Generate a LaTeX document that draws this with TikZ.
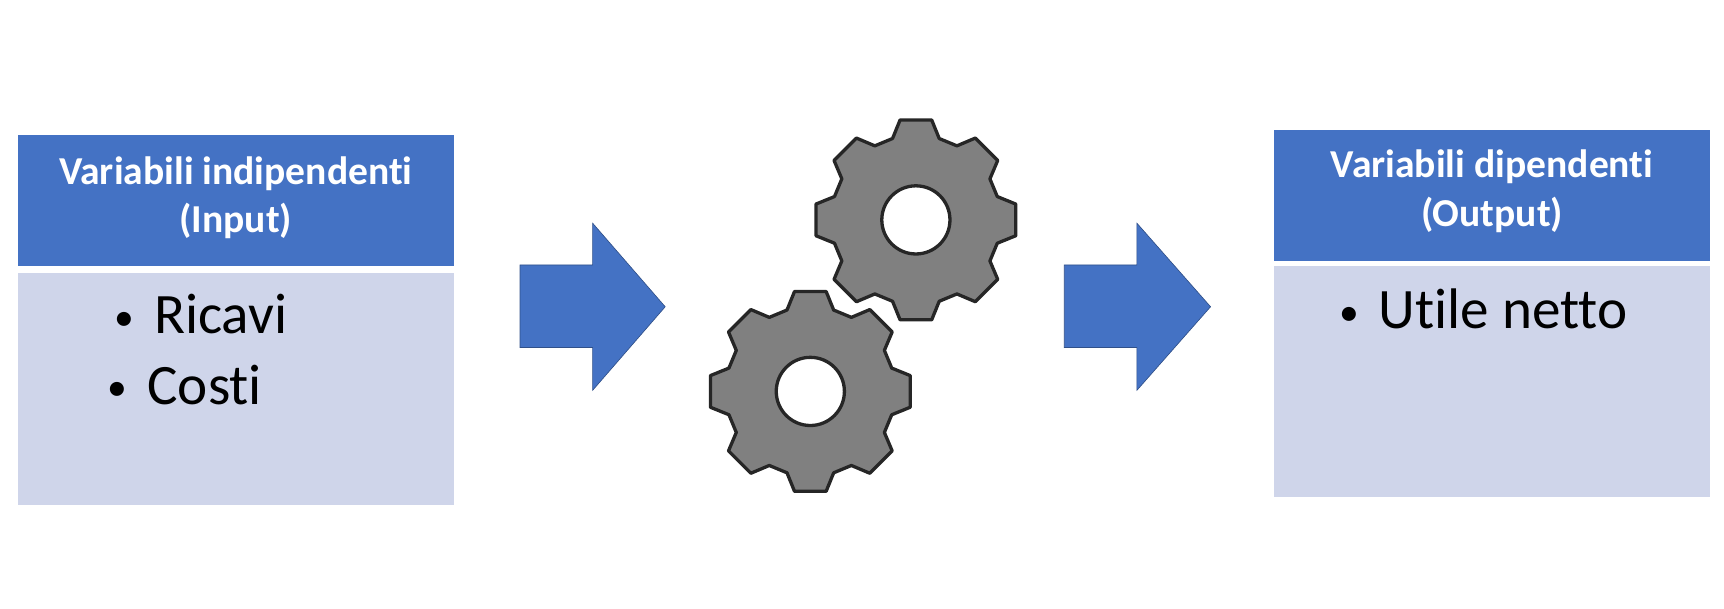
\documentclass[tikz,border=0pt]{standalone}
\usepackage{fontspec}
\setmainfont[Ligatures=NoCommon]{Carlito}
\definecolor{hdr}{HTML}{4472C4}
\definecolor{bdy}{HTML}{CFD5EA}
\definecolor{gr}{HTML}{808080}
\newcommand{\blt}{{\fontsize{36}{40}\selectfont\raisebox{3pt}{•}}\hspace{18pt}}
\begin{document}
\begin{tikzpicture}[x=1pt,y=-1pt,
  hdrbox/.style={fill=hdr,draw=none,text=white,font=\bfseries\fontsize{36}{44}\selectfont,align=center},
  bdybox/.style={fill=bdy,draw=none},
  arr/.style={fill=hdr,draw=hdr!70!black,line width=0.6pt},
  gear/.style={fill=gr,draw=black!85,line width=3pt,line join=round},
  item/.style={font=\fontsize{52}{56}\selectfont,anchor=west,inner sep=0}]
\useasboundingbox (0,0) rectangle (1568,553);
\fill[hdrbox] (16,123) rectangle (413,242);
\fill[bdybox] (16,248) rectangle (413,459);
\node[hdrbox,fill=none] (h1) at (214.5,180) {Variabili indipendenti\\(Input)};
\node[item] (r1) at (104,286) {\blt Ricavi};
\node[item] (r2) at (98,350) {\blt Costi};
\fill[hdrbox] (1159,118) rectangle (1555,237);
\fill[bdybox] (1159,242) rectangle (1555,452);
\node[hdrbox,fill=none] (h2) at (1357,174) {Variabili dipendenti\\(Output)};
\node[item] (r3) at (1218,281) {\blt Utile netto};
\draw[arr] (473,241) -- (539,241) -- (539,203) -- (605,279) -- (539,355) -- (539,316) -- (473,316) -- cycle;
\draw[arr] (968,241) -- (1034,241) -- (1034,203) -- (1101,279) -- (1034,355) -- (1034,316) -- (968,316) -- cycle;
\foreach \cx/\cy in {833/200, 737/356}{
  \begin{scope}[shift={(\cx,\cy)}]
  \draw[gear] (-106:77) \foreach \i in {0,...,7}{ -- ({-90+45*\i-16}:77) -- ({-90+45*\i-9}:92) -- ({-90+45*\i+9}:92) -- ({-90+45*\i+16}:77)} -- cycle;
  \draw[fill=white,draw=black!85,line width=3pt] (0,0) circle (31);
  \end{scope}
}
\end{tikzpicture}
\end{document}
